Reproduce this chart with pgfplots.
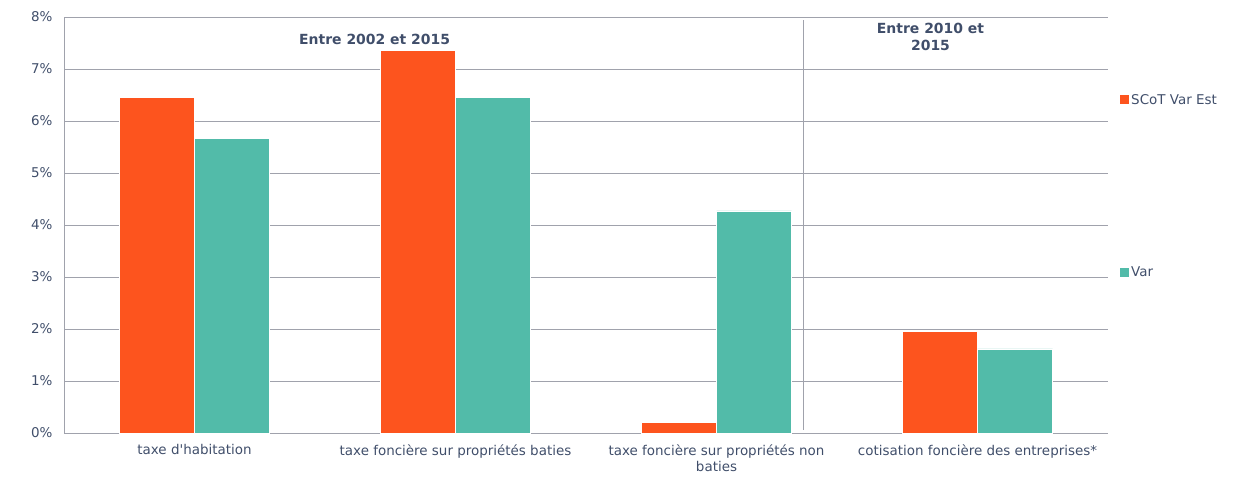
\documentclass[border=0pt]{standalone}
\usepackage{pgfplots}
\pgfplotsset{compat=1.18}
\usepackage{fontspec}
\setmainfont{DejaVu Sans}
\definecolor{txt}{RGB}{64,78,106}
\definecolor{org}{RGB}{253,84,30}
\definecolor{teal}{RGB}{82,187,169}
\definecolor{grd}{RGB}{160,162,172}
\begin{document}
\begin{tikzpicture}
\useasboundingbox (-64bp,-44bp) rectangle (1191bp,433bp);
\begin{axis}[
  at={(0,0)}, anchor=south west,
  scale only axis, width=1044bp, height=416bp,
  ybar=0pt, bar width=75bp,
  xmin=-0.5, xmax=3.5, ymin=0, ymax=8,
  xtick={0,1,2,3},
  xticklabels={taxe d\textquotesingle habitation, taxe foncière sur propriétés baties, {taxe foncière sur propriétés non\\baties}, cotisation foncière des entreprises*},
  xticklabel style={align=center, font=\fontsize{13.5}{16}\selectfont, text=txt, yshift=-8bp},
  ytick={0,1,...,8},
  yticklabel={\pgfmathprintnumber{\tick}\%},
  yticklabel style={font=\fontsize{13.5}{16}\selectfont, text=txt, xshift=-8bp},
  /pgf/number format/assume math mode=true,
  major tick length=0pt,
  ymajorgrids, grid style={grd, line width=0.8bp},
  axis x line*=bottom, axis y line*=left,
  axis line style={grd, line width=0.8bp, -},
  clip=false,
]
\addplot[fill=org, draw=white, line width=0.3bp] coordinates {(0,6.46) (1,7.36) (2,0.21) (3,1.96)};
\addplot[fill=teal, draw=white, line width=0.3bp] coordinates {(0,5.67) (1,6.46) (2,4.27) (3,1.62)};
\draw[grd, line width=0.8bp] (axis cs:2.333,0.06) -- (axis cs:2.333,7.94);
\node[font=\fontsize{14}{17}\selectfont\bfseries, text=txt] at (axis cs:0.69,7.56) {Entre 2002 et 2015};
\node[font=\fontsize{14}{17}\selectfont\bfseries, text=txt, align=center] at (axis cs:2.82,7.62) {Entre 2010 et\\2015};
\fill[org] (rel axis cs:1,0.8005) ++(12bp,-4.5bp) rectangle ++(9bp,9bp);
\fill[teal] (rel axis cs:1,0.3870) ++(12bp,-4.5bp) rectangle ++(9bp,9bp);
\node[anchor=west, inner sep=0pt, font=\fontsize{13.5}{16}\selectfont, text=txt] at (rel axis cs:1,0.8005) [xshift=23bp] {SCoT Var Est};
\node[anchor=west, inner sep=0pt, font=\fontsize{13.5}{16}\selectfont, text=txt] at (rel axis cs:1,0.3870) [xshift=23bp] {Var};
\end{axis}
\end{tikzpicture}
\end{document}
